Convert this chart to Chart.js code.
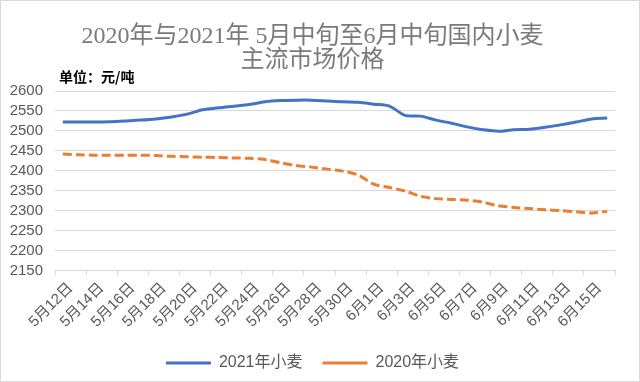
<!DOCTYPE html>
<html>
<head>
<meta charset="utf-8">
<script src="https://cdn.jsdelivr.net/npm/chart.js@4"></script>
<style>
  html, body { margin: 0; padding: 0; background: #fff; }
  #wrap { position: relative; width: 638px; height: 380px; border: 1px solid #d9d9d9; }
</style>
</head>
<body>
<div id="wrap"><canvas id="wheatChart"></canvas></div>
<script>
const TITLE_LINES = ['2020年与2021年 5月中旬至6月中旬国内小麦', '主流市场价格'];
const UNIT_TEXT = '单位：元/吨';

// one entry per day, 5/12 .. 6/16
const DATES = [
  '5月12日','5月13日','5月14日','5月15日','5月16日','5月17日','5月18日','5月19日','5月20日','5月21日',
  '5月22日','5月23日','5月24日','5月25日','5月26日','5月27日','5月28日','5月29日','5月30日','5月31日',
  '6月1日','6月2日','6月3日','6月4日','6月5日','6月6日','6月7日','6月8日','6月9日','6月10日',
  '6月11日','6月12日','6月13日','6月14日','6月15日','6月16日'
];
// axis shows every second day
const TICK_LABELS = [
  '5月12日','5月14日','5月16日','5月18日','5月20日','5月22日','5月24日','5月26日','5月28日','5月30日',
  '6月1日','6月3日','6月5日','6月7日','6月9日','6月11日','6月13日','6月15日'
];

const WHEAT_2021 = [
  2522, 2522, 2522, 2523, 2525, 2527, 2530, 2535, 2542, 2553,
  2558, 2562, 2566, 2573, 2576, 2577, 2577, 2575, 2573, 2572,
  2567, 2562, 2539, 2537, 2527, 2519, 2510, 2503, 2499, 2503,
  2504, 2509, 2515, 2522, 2530, 2532
];
const WHEAT_2020 = [
  2442, 2440, 2439, 2439, 2439, 2439, 2438, 2436, 2435, 2434,
  2433, 2432, 2431, 2428, 2420, 2413, 2409, 2404, 2399, 2389,
  2366, 2358, 2349, 2336, 2330, 2328, 2326, 2321, 2312, 2308,
  2305, 2302, 2300, 2297, 2294, 2298
];

const Y_MIN = 2150, Y_MAX = 2600, Y_STEP = 50;

const FONT_SANS = '"Liberation Sans", "Noto Sans CJK SC", sans-serif';
const FONT_TITLE = '"Liberation Serif", "Noto Sans CJK SC", serif';

Chart.defaults.font.family = FONT_SANS;
Chart.defaults.color = '#595959';

// small bold unit note above the value axis
const unitLabel = {
  id: 'unitLabel',
  afterDraw(chart){
    const c = chart.ctx;
    c.save();
    c.font = 'bold 14px "Noto Sans CJK SC", sans-serif';
    c.fillStyle = '#000';
    c.textBaseline = 'middle';
    c.fillText(UNIT_TEXT, 58, 76);
    c.restore();
  }
};

const ctx = document.getElementById('wheatChart').getContext('2d');
new Chart(ctx, {
  type: 'line',
  data: {
    labels: DATES,
    datasets: [
      { label: '2021年小麦', data: WHEAT_2021, xAxisID: 'x', borderColor: '#4472C4', backgroundColor: '#4472C4',
        borderWidth: 3, pointRadius: 0, tension: 0.3 },
      { label: '2020年小麦', data: WHEAT_2020, xAxisID: 'x', borderColor: '#ED7D31', backgroundColor: '#ED7D31',
        borderWidth: 3, borderDash: [9, 4], pointRadius: 0, tension: 0.3 }
    ]
  },
  options: {
    responsive: true,
    maintainAspectRatio: false,
    animation: false,
    layout: { padding: { left: 9, right: 24, top: 0, bottom: 0 } },
    plugins: {
      title: {
        display: true,
        text: TITLE_LINES,
        color: '#7a7a7a',
        font: { family: FONT_TITLE, size: 24, weight: 'normal', lineHeight: 1.0 },
        padding: { top: 24, bottom: 18 }
      },
      legend: {
        position: 'bottom',
        labels: { usePointStyle: true, pointStyle: 'line', pointStyleWidth: 45, color: '#595959', font: { size: 16 }, padding: 20 }
      },
      tooltip: { enabled: false }
    },
    scales: {
      x: { display: false, offset: true },
      x2: {
        type: 'category',
        labels: TICK_LABELS,
        position: 'bottom',
        offset: true,
        grid: { offset: true, drawOnChartArea: false, tickLength: 5, color: '#d9d9d9' },
        border: { color: '#d9d9d9' },
        ticks: { autoSkip: false, maxRotation: 45, minRotation: 45, font: { size: 15 }, color: '#595959', padding: 4 },
        // rotated labels may hang left past the plot, as in the original
        afterFit(scale){ scale.paddingLeft = 0; scale.paddingRight = 0; }
      },
      y: {
        min: Y_MIN, max: Y_MAX,
        ticks: { stepSize: Y_STEP, autoSkip: false, callback: v => String(v), font: { size: 15 }, color: '#595959', padding: 12 },
        grid: { color: '#d9d9d9', drawTicks: false },
        border: { display: false },
        afterFit(scale){ scale.width = 45; }
      }
    }
  },
  plugins: [unitLabel]
});
</script>
</body>
</html>
